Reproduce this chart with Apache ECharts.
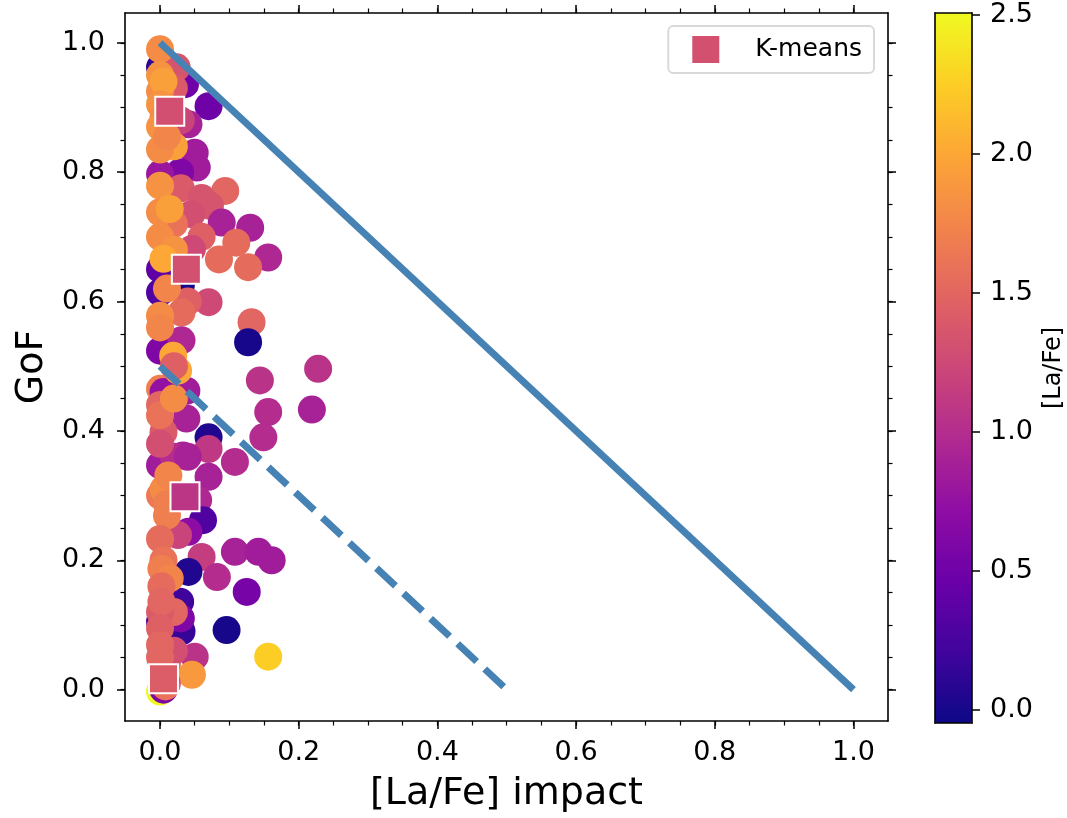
<!DOCTYPE html>
<head>
    <meta charset="utf-8">
    <title>GoF vs [La/Fe] impact</title>
    <script type="text/javascript" src="https://cdn.jsdelivr.net/npm/echarts@6/dist/echarts.min.js"></script>
</head>

<body style="margin:0">
<div id="main" style="width:1067px;height:818px"></div>

<script type="text/javascript">

// scatter points: x = [La/Fe] impact, y = GoF, colour = [La/Fe]
var impact = [
    0.000, 0.005, 0.000, 0.000, 0.010, 0.036, 0.070, 0.024, 0.020, 0.041,
    0.030, 0.050, 0.053, 0.029, 0.000, 0.030, 0.094, 0.060, 0.072, 0.045,
    0.089, 0.130, 0.060, 0.110, 0.046, 0.156, 0.127, 0.085, 0.000, 0.030,
    0.000, 0.070, 0.040, 0.031, 0.132, 0.127, 0.031, 0.000, 0.228, 0.144,
    0.005, 0.038, 0.156, 0.219, 0.038, 0.005, 0.149, 0.070, 0.070, 0.108,
    0.033, 0.000, 0.070, 0.020, 0.040, 0.055, 0.062, 0.041, 0.026, 0.108,
    0.142, 0.161, 0.060, 0.041, 0.082, 0.125, 0.029, 0.096, 0.000, 0.031,
    0.030, 0.050, 0.156, 0.000, 0.020, 0.000, 0.000, 0.000, 0.005, 0.000,
    0.005, 0.000, 0.020, 0.000, 0.010, 0.000, 0.020, 0.000, 0.014, 0.000,
    0.020, 0.005, 0.000, 0.000, 0.010, 0.000, 0.019, 0.026, 0.000, 0.020,
    0.000, 0.005, 0.012, 0.010, 0.010, 0.000, 0.005, 0.002, 0.014, 0.000,
    0.002, 0.002, 0.000, 0.010, 0.020, 0.000, 0.046, 0.010, 0.000, 0.020,
    0.008
];
var gof = [
    -0.003, 0.000, 0.962, 0.650, 0.955, 0.936, 0.902, 0.962, 0.930, 0.874,
    0.880, 0.830, 0.807, 0.800, 0.797, 0.775, 0.771, 0.760, 0.748, 0.735,
    0.722, 0.714, 0.700, 0.691, 0.681, 0.668, 0.653, 0.665, 0.614, 0.625,
    0.524, 0.599, 0.600, 0.583, 0.568, 0.537, 0.540, 0.465, 0.496, 0.478,
    0.460, 0.462, 0.429, 0.433, 0.419, 0.398, 0.390, 0.390, 0.372, 0.352,
    0.362, 0.347, 0.329, 0.360, 0.360, 0.293, 0.262, 0.244, 0.239, 0.213,
    0.213, 0.200, 0.205, 0.182, 0.174, 0.151, 0.136, 0.092, 0.105, 0.090,
    0.110, 0.051, 0.051, 0.380, 0.120, 0.990, 0.950, 0.925, 0.940, 0.905,
    0.885, 0.870, 0.840, 0.835, 0.855, 0.779, 0.720, 0.738, 0.743, 0.700,
    0.680, 0.666, 0.578, 0.560, 0.620, 0.440, 0.516, 0.493, 0.424, 0.450,
    0.300, 0.310, 0.331, 0.287, 0.269, 0.233, 0.200, 0.187, 0.172, 0.120,
    0.160, 0.136, 0.095, 0.040, 0.060, 0.069, 0.023, 0.010, 0.050, 0.500,
    0.005
];
var laFe = [
    2.50, 0.60, 0.10, 0.40, 0.60, 0.50, 0.50, 1.35, 1.40, 0.90,
    1.20, 0.85, 0.85, 0.60, 0.80, 1.40, 1.50, 1.35, 1.35, 1.30,
    0.90, 0.90, 1.45, 1.55, 1.25, 0.95, 1.55, 1.55, 0.30, 0.00,
    0.60, 1.25, 1.45, 1.55, 1.50, 0.00, 0.95, 1.70, 1.05, 1.05,
    0.75, 0.85, 1.00, 0.90, 0.90, 1.40, 1.00, 0.05, 1.10, 1.00,
    0.90, 0.85, 0.90, 1.00, 0.90, 0.95, 0.30, 0.70, 1.20, 0.90,
    0.85, 0.85, 1.15, 0.05, 1.00, 0.55, 0.20, 0.00, 0.30, 0.15,
    0.60, 1.05, 2.25, 1.30, 1.50, 1.80, 1.85, 1.80, 1.95, 1.85,
    1.80, 1.85, 1.95, 1.80, 1.75, 1.85, 1.60, 1.80, 1.95, 1.80,
    1.85, 2.00, 1.80, 1.75, 1.75, 1.50, 2.00, 2.00, 1.60, 1.80,
    1.65, 1.80, 1.75, 1.70, 1.70, 1.55, 1.60, 1.70, 1.75, 1.40,
    1.55, 1.50, 1.45, 1.60, 1.30, 1.50, 1.90, 1.40, 1.50, 1.45,
    1.60
];

// K-means centres
var kmImpact = [0.014, 0.038, 0.036, 0.005];
var kmGof = [0.894, 0.650, 0.298, 0.017];
var kmLaFe = [1.30, 1.32, 1.08, 1.42];

// tick labels
var xTicks = [0.0, 0.2, 0.4, 0.6, 0.8, 1.0];
var yTicks = [0.0, 0.2, 0.4, 0.6, 0.8, 1.0];
var cbTicks = [0.0, 0.5, 1.0, 1.5, 2.0, 2.5];

var plasma = ['#0d0887', '#41049d', '#6a00a8', '#8f0da4', '#b12a90', '#cc4778',
              '#e16462', '#f2844b', '#fca636', '#fcce25', '#f0f921'];

var minorTicks = [];
for (var i = 0; i <= 20; i++) minorTicks.push(+(i * 0.05).toFixed(2));

var FONT = 'DejaVu Sans';
var xMin = -0.0505, xMax = 1.0498, yMin = -0.0485, yMax = 1.046;
var cbMin = -0.048, cbMax = 2.506;

function axis(pos, grid, min, max, opt) {
    var a = {
        type: 'value', gridIndex: grid, position: pos, min: min, max: max,
        splitLine: {show: false},
        axisLine: {show: !!opt.line, onZero: false, lineStyle: {color: '#000', width: 1.6}},
        axisTick: {show: !!opt.ticks, inside: false, length: opt.len || 8,
                   customValues: opt.ticks, lineStyle: {color: '#000', width: opt.tw || 1.5}},
        axisLabel: {show: !!opt.labels, customValues: opt.labels, margin: opt.margin || 18,
                    color: '#000', fontFamily: FONT, fontSize: 27,
                    formatter: function (v) { return v.toFixed(1); }},
        z: opt.z || 0
    };
    if (opt.name) {
        a.name = opt.name;
        a.nameLocation = 'middle';
        a.nameGap = opt.nameGap;
        a.nameRotate = opt.nameRotate;
        a.nameTextStyle = {color: '#000', fontFamily: FONT, fontSize: opt.nameSize};
    }
    return a;
}

var points = [];
for (var i = 0; i < impact.length; i++) points.push([impact[i], gof[i], laFe[i]]);
var centres = [];
for (var i = 0; i < kmImpact.length; i++) centres.push([kmImpact[i], kmGof[i], kmLaFe[i]]);

var myChart = echarts.init(document.getElementById('main'));
var option = {
    animation: false,
    backgroundColor: '#fff',
    grid: [
        {left: 125, top: 13, width: 763, height: 710},
        {left: 935, top: 13, width: 37, height: 710}
    ],
    xAxis: [
        axis('bottom', 0, xMin, xMax, {line: true, ticks: xTicks, labels: xTicks,
             name: '[La/Fe] impact', nameGap: 54, nameSize: 38}),
        axis('bottom', 0, xMin, xMax, {ticks: minorTicks, len: 4.5, tw: 1.2}),
        axis('top', 0, xMin, xMax, {line: true, ticks: xTicks}),
        axis('top', 0, xMin, xMax, {ticks: minorTicks, len: 4.5, tw: 1.2}),
        axis('bottom', 1, 0, 1, {line: true, z: 10}),
        axis('top', 1, 0, 1, {line: true, z: 10})
    ],
    yAxis: [
        axis('left', 0, yMin, yMax, {line: true, ticks: yTicks, labels: yTicks, margin: 20,
             name: 'GoF', nameGap: 72, nameRotate: 90, nameSize: 38}),
        axis('left', 0, yMin, yMax, {ticks: minorTicks, len: 4.5, tw: 1.2}),
        axis('right', 0, yMin, yMax, {line: true, ticks: yTicks}),
        axis('right', 0, yMin, yMax, {ticks: minorTicks, len: 4.5, tw: 1.2}),
        axis('left', 1, cbMin, cbMax, {line: true, z: 10}),
        axis('right', 1, cbMin, cbMax, {line: true, ticks: cbTicks, labels: cbTicks, margin: 18, z: 10,
             name: '[La/Fe]', nameGap: 70, nameRotate: 90, nameSize: 24})
    ],
    visualMap: {
        type: 'continuous',
        min: cbMin, max: cbMax,
        dimension: 2,
        seriesIndex: [0, 3],
        inRange: {color: plasma},
        calculable: false,
        hoverLink: false,
        left: 935, top: 13,
        itemWidth: 37, itemHeight: 710,
        padding: 0
    },
    legend: {
        data: ['K-means'],
        right: 193, top: 26,
        icon: 'rect',
        itemWidth: 29, itemHeight: 29,
        padding: [8, 12, 8, 22],
        backgroundColor: '#fff',
        borderColor: '#d9d9d9', borderWidth: 2, borderRadius: 5,
        textStyle: {color: '#000', fontFamily: FONT, fontSize: 25, padding: [0, 0, 0, 30]}
    },
    series: [
        {
            type: 'scatter', data: points, symbolSize: 28, z: 2,
            itemStyle: {opacity: 1}
        },
        {
            type: 'line', data: [[0, 1], [1, 0]], showSymbol: false, silent: true, z: 3,
            lineStyle: {color: '#4682b4', width: 7, cap: 'butt'}
        },
        {
            type: 'line', data: [[0, 0.5], [0.5, 0]], showSymbol: false, silent: true, z: 3,
            lineStyle: {color: '#4682b4', width: 7, cap: 'butt', type: [26, 11]}
        },
        {
            name: 'K-means', type: 'scatter', data: centres, symbol: 'rect', symbolSize: 29, z: 5,
            itemStyle: {color: '#d4506f', borderColor: '#fff', borderWidth: 2, opacity: 1}
        }
    ]
};
myChart.setOption(option);

</script>
</body>
